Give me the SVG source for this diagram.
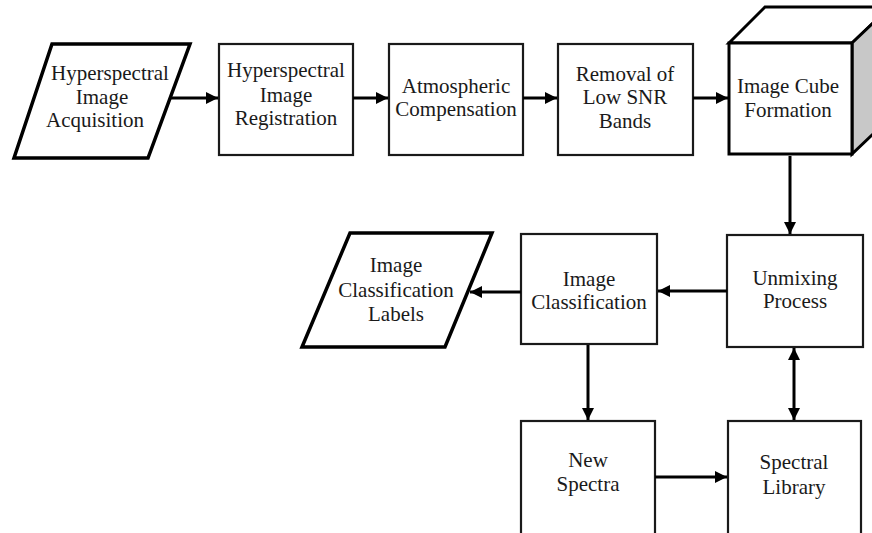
<svg xmlns="http://www.w3.org/2000/svg" width="872" height="533" viewBox="0 0 872 533">
<style>
.box{fill:#fff;stroke:#1a1a1a;stroke-width:2.2}
.thick{fill:#fff;stroke:#000;stroke-width:3.5;stroke-linejoin:miter}
.cube{fill:#fff;stroke:#000;stroke-width:3;stroke-linejoin:miter}
.side{fill:#c8c8c8;stroke:#000;stroke-width:3}
text{font-family:"Liberation Serif","Times New Roman",serif;font-size:21px;fill:#1a1a1a;text-anchor:middle}
.conn line{stroke:#000;stroke-width:3}
</style>
<defs>
<marker id="ah" viewBox="0 0 10 10" refX="10" refY="5" markerWidth="4" markerHeight="4" orient="auto-start-reverse" markerUnits="strokeWidth">
<path d="M0,0 L10,5 L0,10 Z" fill="#000"/>
</marker>
</defs>
<rect width="872" height="533" fill="#fff"/>
<g id="n1">
<polygon class="thick" points="52,44 190,44 148,158 14,158"/>
<text x="110" y="80">Hyperspectral</text>
<text x="102" y="104">Image</text>
<text x="95" y="127">Acquisition</text>
</g>
<g id="n2">
<rect class="box" x="219" y="44" width="134" height="111"/>
<text x="286" y="77">Hyperspectral</text>
<text x="286" y="102">Image</text>
<text x="286" y="125">Registration</text>
</g>
<g id="n3">
<rect class="box" x="389" y="44" width="134" height="111"/>
<text x="456" y="93">Atmospheric</text>
<text x="456" y="116">Compensation</text>
</g>
<g id="n4">
<rect class="box" x="558" y="44" width="135" height="111"/>
<text x="625" y="81">Removal of</text>
<text x="625" y="104">Low SNR</text>
<text x="625" y="128">Bands</text>
</g>
<g id="n5">
<polygon class="cube" points="729,43 765,7 890,7 852,43"/>
<polygon class="side" points="852,43 890,7 890,118 852,154"/>
<rect class="cube" x="729" y="43" width="123" height="111"/>
<text x="788" y="93">Image Cube</text>
<text x="788" y="117">Formation</text>
</g>
<g id="n6">
<rect class="box" x="727" y="235" width="136" height="112"/>
<text x="795" y="285">Unmixing</text>
<text x="795" y="308">Process</text>
</g>
<g id="n7">
<rect class="box" x="521" y="234" width="136" height="110"/>
<text x="589" y="286">Image</text>
<text x="589" y="309">Classification</text>
</g>
<g id="n8">
<polygon class="thick" points="350,233 492,233 445,347 302,347"/>
<text x="396" y="272">Image</text>
<text x="396" y="297">Classification</text>
<text x="396" y="321">Labels</text>
</g>
<g id="n9">
<rect class="box" x="521" y="421" width="134" height="120"/>
<text x="588" y="467">New</text>
<text x="588" y="491">Spectra</text>
</g>
<g id="n10">
<rect class="box" x="728" y="421" width="133" height="120"/>
<text x="794" y="469">Spectral</text>
<text x="794" y="494">Library</text>
</g>
<g id="connectors" class="conn">
<line x1="170" y1="98" x2="218" y2="98" marker-end="url(#ah)"/>
<line x1="353" y1="98" x2="388" y2="98" marker-end="url(#ah)"/>
<line x1="523" y1="98" x2="557" y2="98" marker-end="url(#ah)"/>
<line x1="693" y1="98" x2="728" y2="98" marker-end="url(#ah)"/>
<line x1="790" y1="156" x2="790" y2="234" marker-end="url(#ah)"/>
<line x1="727" y1="291" x2="658" y2="291" marker-end="url(#ah)"/>
<line x1="521" y1="292" x2="470" y2="292" marker-end="url(#ah)"/>
<line x1="588" y1="345" x2="588" y2="420" marker-end="url(#ah)"/>
<line x1="794" y1="348" x2="794" y2="420" marker-start="url(#ah)" marker-end="url(#ah)"/>
<line x1="655" y1="477" x2="727" y2="477" marker-end="url(#ah)"/>
</g>
</svg>
